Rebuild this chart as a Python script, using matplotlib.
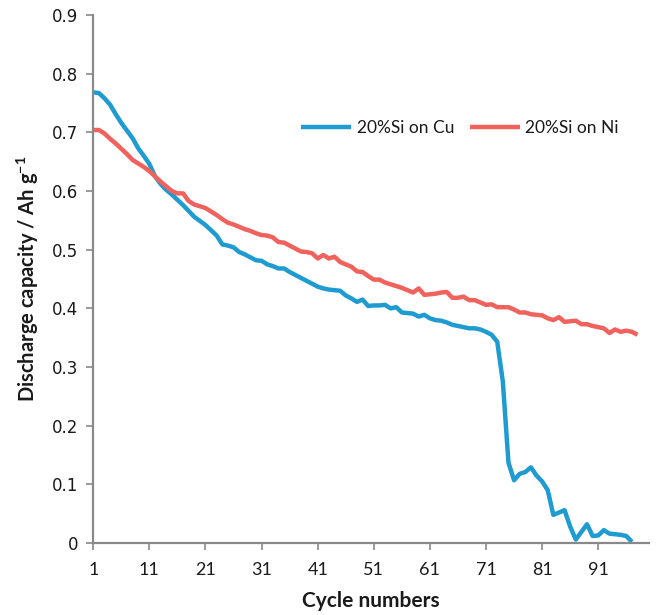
import matplotlib.pyplot as plt
import numpy as np

# discharge capacity (Ah/g) per cycle
cu_capacity = [
    0.768, 0.767, 0.758, 0.747, 0.731, 0.716, 0.703, 0.690, 0.673, 0.660,
    0.646, 0.625, 0.612, 0.602, 0.594, 0.585, 0.576, 0.566, 0.556, 0.549,
    0.542, 0.533, 0.524, 0.509, 0.507, 0.504, 0.496, 0.492, 0.487, 0.482,
    0.481, 0.475, 0.472, 0.468, 0.468, 0.462, 0.457, 0.452, 0.447, 0.442,
    0.437, 0.434, 0.432, 0.431, 0.430, 0.422, 0.417, 0.411, 0.415, 0.404,
    0.405, 0.405, 0.406, 0.400, 0.402, 0.393, 0.392, 0.391, 0.386, 0.389,
    0.383, 0.380, 0.379, 0.376, 0.372, 0.370, 0.368, 0.366, 0.366, 0.364,
    0.360, 0.355, 0.343, 0.275, 0.137, 0.107, 0.118, 0.121, 0.129, 0.115,
    0.105, 0.090, 0.048, 0.052, 0.056, 0.028, 0.006, 0.019, 0.032, 0.012,
    0.013, 0.022, 0.016, 0.015, 0.014, 0.012, 0.002,
]
ni_capacity = [
    0.704, 0.704, 0.698, 0.689, 0.681, 0.672, 0.663, 0.653, 0.647, 0.641,
    0.634, 0.625, 0.616, 0.608, 0.600, 0.596, 0.596, 0.583, 0.577, 0.574,
    0.571, 0.565, 0.559, 0.552, 0.546, 0.543, 0.539, 0.535, 0.532, 0.528,
    0.525, 0.524, 0.521, 0.513, 0.512, 0.507, 0.502, 0.497, 0.496, 0.494,
    0.485, 0.491, 0.485, 0.488, 0.479, 0.475, 0.471, 0.463, 0.462, 0.455,
    0.449, 0.449, 0.444, 0.441, 0.438, 0.435, 0.431, 0.427, 0.434, 0.423,
    0.424, 0.425, 0.427, 0.428, 0.418, 0.418, 0.420, 0.414, 0.414, 0.410,
    0.406, 0.407, 0.402, 0.402, 0.402, 0.398, 0.393, 0.393, 0.390, 0.389,
    0.388, 0.383, 0.380, 0.385, 0.377, 0.378, 0.379, 0.373, 0.373, 0.370,
    0.368, 0.366, 0.358, 0.364, 0.360, 0.362, 0.360, 0.355,
]
series_names = ["20%Si on Cu", "20%Si on Ni"]
x_ticks = list(range(1, 100, 10))
y_ticks = [0, 0.1, 0.2, 0.3, 0.4, 0.5, 0.6, 0.7, 0.8, 0.9]

cu_cycles = np.arange(1, len(cu_capacity) + 1)
ni_cycles = np.arange(1, len(ni_capacity) + 1)

plt.rcParams["mathtext.fontset"] = "custom"
plt.rcParams["mathtext.rm"] = "Lato"
plt.rcParams["mathtext.bf"] = "Lato:bold"

axis_grey = "#898989"
text_col = "#1a1a1a"

fig = plt.figure(figsize=(6.56, 6.15), dpi=100)
ax = fig.add_axes([0.1422, 0.117, 0.8467, 0.8586])

ax.plot(cu_cycles, cu_capacity, color="#1e9bd0", lw=3.2,
        solid_joinstyle="round", solid_capstyle="butt", label=series_names[0])
ax.plot(ni_cycles, ni_capacity, color="#f1625c", lw=3.2,
        solid_joinstyle="round", solid_capstyle="butt", label=series_names[1])

ax.set_xlim(1, 100)
ax.set_ylim(0, 0.9)
ax.set_xticks(x_ticks)
ax.set_xticklabels([str(t) for t in x_ticks], family="Lato", fontsize=13,
                   color=text_col)
ax.set_yticks(y_ticks)
ax.set_yticklabels(["0" if t == 0 else "%.1f" % t for t in y_ticks],
                   family="DejaVu Sans", fontsize=12, color=text_col)

for side in ["top", "right"]:
    ax.spines[side].set_visible(False)
for side in ["left", "bottom"]:
    ax.spines[side].set_color(axis_grey)
    ax.spines[side].set_linewidth(1.6)
ax.tick_params(direction="out", length=5, width=1.2, color=axis_grey)
ax.tick_params(axis="y", pad=6)
ax.tick_params(axis="x", pad=9)

ax.set_xlabel("Cycle numbers", family="Lato", fontweight="bold", fontsize=15,
              color=text_col, labelpad=9)
ax.set_ylabel(r"Discharge capacity / Ah g$^{\mathbf{-1}}$", family="Lato",
              fontweight="bold", fontsize=14.5, color=text_col, labelpad=8)

leg = ax.legend(loc="center", bbox_to_anchor=(460 / 656, 1 - 128 / 615),
                bbox_transform=fig.transFigure, ncol=2, frameon=False,
                handlelength=2.9, handletextpad=0.3, columnspacing=0.9,
                prop={"family": "Lato", "size": 12.5})
for t in leg.get_texts():
    t.set_color(text_col)

plt.savefig("out.png", dpi=100)
